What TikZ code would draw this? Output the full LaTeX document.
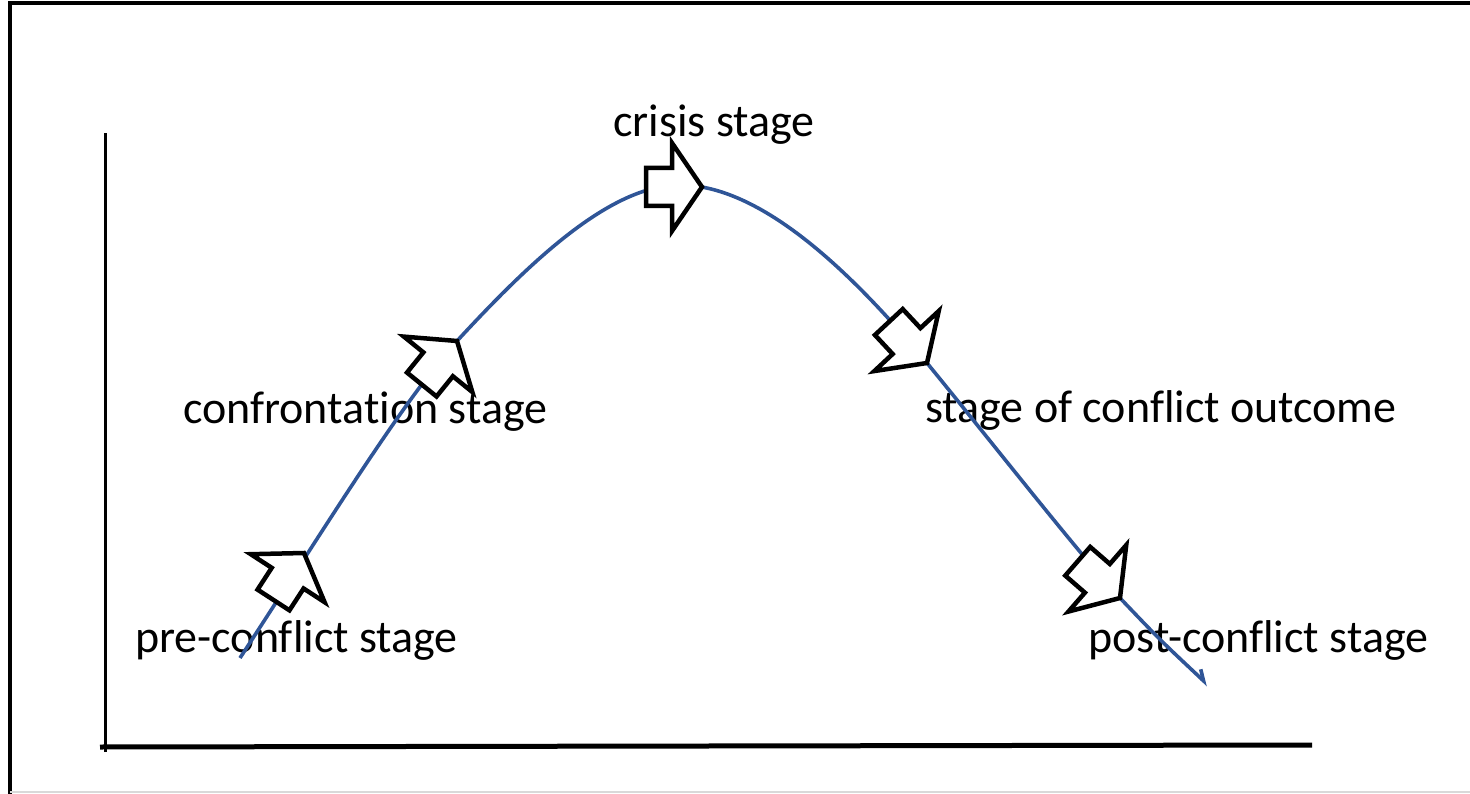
\documentclass[tikz,border=0pt]{standalone}
\usepackage{fontspec}
\setmainfont{Carlito}[Ligatures=NoCommon, Contextuals=NoAlternate, RawFeature=-dlig]
\usetikzlibrary{arrows.meta}

\definecolor{curveblue}{HTML}{2F5597}

\tikzset{
  stagelabel/.style={anchor=base west, inner sep=0pt, font=\fontsize{46}{55}\selectfont},
  stagecurve/.style={draw=curveblue, line width=3.6pt},
  stagearrow/.pic={
    \filldraw[draw=black, fill=white, line width=4.5pt, line join=miter]
      (0,0) -- (-30,-44) -- (-30,-19) -- (-56,-19) -- (-56,19) -- (-30,19) -- (-30,44) -- cycle;
  },
}

\begin{document}
\begin{tikzpicture}[x=1pt, y=-1pt]
                \useasboundingbox (0,0) rectangle (1470,794);
                % frame
                \draw[line width=3.5pt] (10,800) -- (10,3) -- (1475,3);
                \draw[black!15, line width=2pt] (10,792) -- (1475,792);
                % axes
                \coordinate (origin) at (105,747);
                \coordinate (ytop) at (105,133);
                \coordinate (xend) at (1312,745);
                \draw[line width=3pt] (105,752) -- (ytop);
                \draw[line width=5pt] (100,747) -- (xend);
                % arrow tips on the curve
                \coordinate (pre) at (304,553);
                \coordinate (conf) at (457,341);
                \coordinate (peak) at (680,185);
                \coordinate (crisis) at (702,187);
                \coordinate (outcome) at (927,363);
                \coordinate (post) at (1120,598);
                \coordinate (curvestart) at (240,658);
                \coordinate (curveend) at (1208,685);
                % labels
                \node[stagelabel] (crisislabel) at (613,137) {crisis stage};
                \node[stagelabel] (conflabel) at (183,423) {confrontation stage};
                \node[stagelabel] (prelabel) at (135,652) {pre-conflict stage};
                \node[stagelabel] (outcomelabel) at (925,422) {stage of conflict outcome};
                \node[stagelabel] (postlabel) at (1088,652) {post-conflict stage};
                % curve
                \draw[stagecurve, -{Straight Barb[harpoon, length=10pt, width=13pt]}]
                  (curvestart) .. controls (330,520) and (400,405) .. (conf)
                  .. controls (530,262) and (610,185) .. (peak)
                  .. controls (760,185) and (850,270) .. (outcome)
                  .. controls (990,440) and (1080,555) .. (post)
                  .. controls (1160,640) .. (curveend);
                % stage arrows
                \pic[rotate=57] at (pre) {stagearrow};
                \pic[rotate=51] at (conf) {stagearrow};
                \pic at (crisis) {stagearrow};
                \pic[rotate=-47] at (outcome) {stagearrow};
                \pic[rotate=-41] at (post) {stagearrow};
            \end{tikzpicture}
\end{document}
